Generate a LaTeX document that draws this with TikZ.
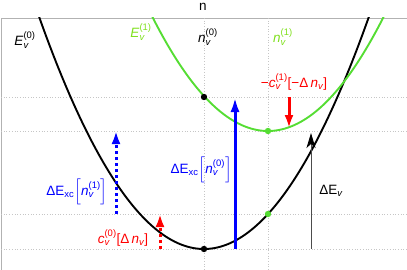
\documentclass[tikz,border=0pt]{standalone}
\usepackage{amsmath}
\usepackage{fontspec}
\setmainfont{Liberation Sans}
\usetikzlibrary{arrows.meta}
\definecolor{curvegreen}{RGB}{85,221,51}
\definecolor{labelgreen}{RGB}{128,224,30}
\newcommand{\supsub}[2]{$^{\text{#1}}_{\text{\itshape #2}}$}
\tikzset{
  gridl/.style={gray!45, dotted, line width=0.7pt},
  solidarrow/.style={line width=3pt, -{Latex[length=15pt,width=9pt]}},
  dotarrow/.style={line width=3pt, dash pattern=on 3pt off 3pt, -{Latex[length=13pt,width=9pt]}},
  lbl/.style={inner sep=0pt}
}
\begin{document}
\begin{tikzpicture}[x=1pt,y=-1pt, font=\fontsize{13.5}{16}\selectfont]
\useasboundingbox (0,0) rectangle (407,270);

% ===== frame and grid =====
\draw[gray!60, line width=0.8pt] (1,270) -- (1,18) -- (407,18);
\foreach \y in {97,131,214,249} {
  \draw[gridl] (1,\y) -- (407,\y);
}
\foreach \x in {204,268} {
  \draw[gridl] (\x,18) -- (\x,270);
}
\node[lbl] (axisn) at (203,7) {n};

% ===== curves =====
\begin{scope}
\clip (1,18) rectangle (407,270);
\draw[line width=1.9pt, domain=36:372, samples=120] plot (\x, {249-(0.0924*(\x-204))^2});
\draw[curvegreen, line width=1.9pt, domain=150:388, samples=120] plot (\x, {131-(0.0924*(\x-268))^2});
\end{scope}

% ===== points =====
\coordinate (zmin) at (204,249);
\coordinate (zone) at (204,97);
\coordinate (omin) at (268,131);
\coordinate (oone) at (268,214);
\fill (zmin) circle (3.2pt);
\fill (zone) circle (3.2pt);
\fill[curvegreen] (omin) circle (3.2pt);
\fill[curvegreen] (oone) circle (3.2pt);

% ===== arrows =====
\coordinate (xcz0) at (235,249);
\coordinate (xcz1) at (235,97);
\coordinate (xco0) at (116,214);
\coordinate (xco1) at (116,131);
\coordinate (cz0) at (160,249);
\coordinate (cz1) at (160,214);
\coordinate (co0) at (289,97);
\coordinate (co1) at (289,128);
\coordinate (ev0) at (311,249);
\coordinate (ev1) at (311,133);
\draw[solidarrow, blue] (xcz0) -- (xcz1);
\draw[dotarrow, blue] (xco0) -- (xco1);
\draw[dotarrow, red] (cz0) -- (cz1);
\draw[red, line width=3pt, -{Latex[length=13pt,width=9pt]}] (co0) -- (co1);
\draw[black!70, line width=0.9pt, -{Stealth[length=15pt,width=9pt,inset=4pt,black]}] (ev0) -- (ev1);

% ===== labels =====
\node[lbl] (ezero) at (25,40) {\textit{E}\supsub{(0)}{v}};
\node[lbl, labelgreen] (eone) at (141,32) {\textit{E}\supsub{(1)}{v}};
\node[lbl] (nzero) at (208,37) {\textit{n}\supsub{(0)}{v}};
\node[lbl, labelgreen] (none) at (283,37) {\textit{n}\supsub{(1)}{v}};
\node[lbl, red] (cone) at (294,82) {−\textit{c}\supsub{(1)}{v}[−Δ\,\textit{n}$_{\text{\itshape v}}$]};
\node[lbl, blue, anchor=east] (xczero) at (232,170) {ΔE$_{\text{xc}}\Big[$\textit{n}\supsub{(0)}{v}$\Big]$};
\node[lbl, blue] (xcone) at (77,192) {ΔE$_{\text{xc}}\Big[$\textit{n}\supsub{(1)}{v}$\Big]$};
\node[lbl, red] (czero) at (123,238) {\textit{c}\supsub{(0)}{v}[Δ\,\textit{n}$_{\text{\itshape v}}$]};
\node[lbl] (dev) at (331,191) {ΔE$_{\text{\itshape v}}$};

\end{tikzpicture}
\end{document}
